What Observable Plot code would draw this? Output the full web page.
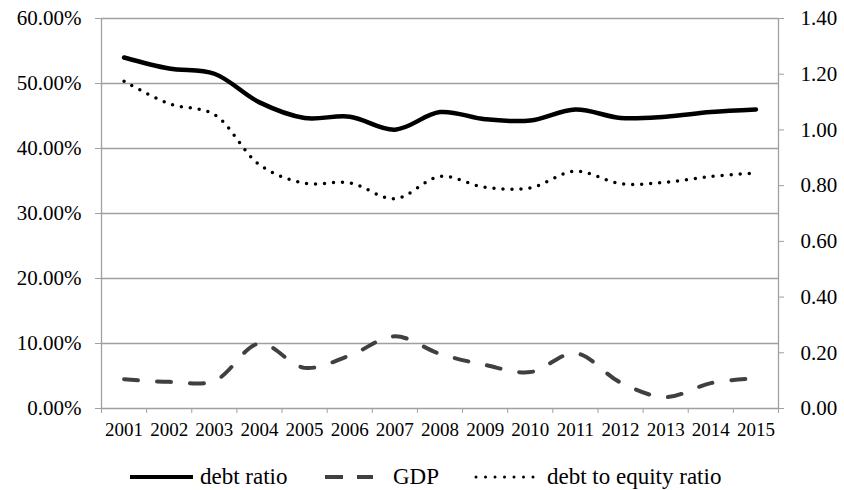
<!DOCTYPE html>
<html>
<head>
<meta charset="utf-8">
<script src="https://cdn.jsdelivr.net/npm/d3@7"></script>
<script src="https://cdn.jsdelivr.net/npm/@observablehq/plot@0.6"></script>
<style>
  html, body { margin: 0; padding: 0; background: #fff; }
  #wrap { width: 844px; font-family: 'Liberation Serif', 'Times New Roman', serif; }
  #legend { position: relative; width: 844px; height: 45px; font-size: 23px; color: #000; }
  #legend svg { position: absolute; top: 0; }
  #legend span { position: absolute; top: 19px; white-space: nowrap; line-height: 26px; }
</style>
</head>
<body>
<div id="wrap"></div>
<script>
const years = [2001, 2002, 2003, 2004, 2005, 2006, 2007, 2008, 2009, 2010, 2011, 2012, 2013, 2014, 2015];
const debtRatio = [54.0, 52.3, 51.5, 47.1, 44.7, 44.9, 42.9, 45.6, 44.5, 44.3, 46.0, 44.7, 44.9, 45.6, 46.0];
const gdp = [4.5, 4.1, 4.25, 10.0, 6.25, 8.15, 11.1, 8.4, 6.7, 5.6, 8.5, 4.0, 1.75, 3.9, 4.65];
const debtToEquity = [1.175, 1.094, 1.055, 0.875, 0.809, 0.810, 0.753, 0.833, 0.794, 0.792, 0.852, 0.807, 0.812, 0.833, 0.845];
const leftTicks = [0, 10, 20, 30, 40, 50, 60];
const rightTicks = [0, 0.2, 0.4, 0.6, 0.8, 1.0, 1.2, 1.4];
const seriesNames = ["debt ratio", "GDP", "debt to equity ratio"];

const k = 60 / 1.4;
const data = years.map((year, i) => ({year, debt: debtRatio[i], gdp: gdp[i], de: debtToEquity[i]}));
const boundaries = [years[0] - 0.5, ...years.map(y => y + 0.5)];
const gray = "#a0a0a0";

const chart = Plot.plot({
  width: 844,
  height: 445,
  marginLeft: 101,
  marginRight: 66,
  marginTop: 18,
  marginBottom: 37,
  style: {fontFamily: "'Liberation Serif', 'Times New Roman', serif", fontSize: "20px", color: "#000", background: "#fff"},
  x: {type: "linear", domain: [years[0] - 0.5, years[years.length - 1] + 0.5], label: null},
  y: {domain: [0, 60], label: null},
  marks: [
    Plot.gridY(leftTicks, {stroke: gray, strokeOpacity: 1, strokeWidth: 1.3}),
    Plot.ruleX([boundaries[0], boundaries[boundaries.length - 1]], {stroke: gray, strokeWidth: 1.3}),
    Plot.axisY(leftTicks, {anchor: "left", tickSize: 6, tickPadding: 14, stroke: gray, fill: "#000",
      tickFormat: d => d.toFixed(2) + "%", fontSize: 21, label: null}),
    Plot.axisY(rightTicks.map(v => v * k), {anchor: "right", tickSize: 5, tickPadding: 17, stroke: gray, fill: "#000",
      tickFormat: d => (d / k).toFixed(2), fontSize: 21, label: null}),
    Plot.axisX(boundaries, {tickSize: 5, stroke: gray, tickFormat: () => "", label: null}),
    Plot.axisX(years, {tickSize: 0, tickPadding: 14, fill: "#000", tickFormat: d => String(d), fontSize: 19, label: null}),
    Plot.line(data, {x: "year", y: "gdp", curve: "catmull-rom", stroke: "#404040", strokeWidth: 4,
      strokeDasharray: "14,19", strokeLinecap: "round"}),
    Plot.line(data, {x: "year", y: d => d.de * k, curve: "catmull-rom", stroke: "#000", strokeWidth: 3.5,
      strokeDasharray: "0,9", strokeLinecap: "round"}),
    Plot.line(data, {x: "year", y: "debt", curve: "catmull-rom", stroke: "#000", strokeWidth: 4.5,
      strokeLinecap: "round"})
  ]
});

const wrap = document.getElementById("wrap");
wrap.appendChild(chart);

// Legend below the chart
const legend = document.createElement("div");
legend.id = "legend";
const items = [
  {name: seriesNames[0], x1: 130, x2: 193, tx: 200, stroke: "#000", w: 4, dash: null, cap: "butt"},
  {name: seriesNames[1], x1: 325, x2: 373, tx: 393, stroke: "#404040", w: 4, dash: "18,14", cap: "butt"},
  {name: seriesNames[2], x1: 476, x2: 534, tx: 547, stroke: "#000", w: 3, dash: "0,9.5", cap: "round"}
];
for (const it of items) {
  const svg = d3.create("svg").attr("width", it.x2 - it.x1 + 6).attr("height", 45)
    .style("left", (it.x1 - 3) + "px");
  const ln = svg.append("line").attr("x1", 3).attr("x2", it.x2 - it.x1 + 3).attr("y1", 32).attr("y2", 32)
    .attr("stroke", it.stroke).attr("stroke-width", it.w).attr("stroke-linecap", it.cap);
  if (it.dash) ln.attr("stroke-dasharray", it.dash);
  legend.appendChild(svg.node());
  const span = document.createElement("span");
  span.textContent = it.name;
  span.style.left = it.tx + "px";
  legend.appendChild(span);
}
wrap.appendChild(legend);
</script>
</body>
</html>
